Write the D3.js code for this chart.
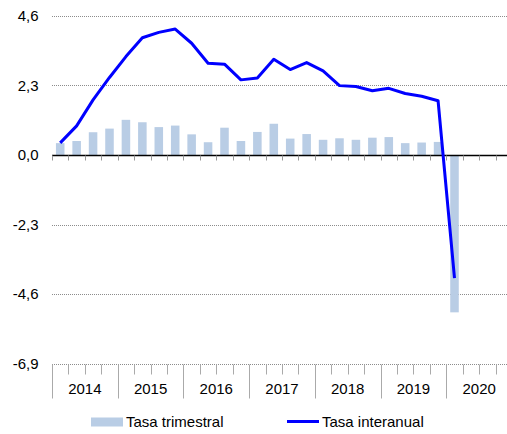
<!DOCTYPE html>
<html>
<head>
<meta charset="utf-8">
<script src="https://cdn.jsdelivr.net/npm/d3@7"></script>
<style>
  body { margin: 0; background: #fff; }
  svg { display: block; font-family: "Liberation Sans", Arial, sans-serif; }
</style>
</head>
<body>
<div id="chart"></div>
<script>
// Quarterly data, 2014Q1 .. 2020Q1
const years = ["2014", "2015", "2016", "2017", "2018", "2019", "2020"]
const quarters = years.flatMap(y => ["T1", "T2", "T3", "T4"].map(q => y + q))
const tasaTrimestral = [
  0.39, 0.46, 0.75, 0.87,
  1.16, 1.08, 0.92, 0.97,
  0.68, 0.42, 0.90, 0.46,
  0.76, 1.03, 0.54, 0.69,
  0.50, 0.55, 0.50, 0.57,
  0.59, 0.39, 0.41, 0.43,
  -5.2
]
const tasaInteranual = [
  0.40, 0.96, 1.82, 2.56,
  3.25, 3.87, 4.05, 4.16,
  3.69, 3.03, 3.00, 2.48,
  2.54, 3.16, 2.82, 3.05,
  2.78, 2.29, 2.26, 2.12,
  2.20, 2.03, 1.94, 1.79,
  -4.07
]
const yTicks = [-6.9, -4.6, -2.3, 0, 2.3, 4.6]

const width = 507
const height = 434
const left = 52
const right = 512
const yTop = 15.7
const yBottom = 363.8

const svg = d3.select("#chart")
  .append("svg")
  .attr("width", width)
  .attr("height", height)

// Scales
const x = d3.scaleBand()
  .domain(quarters)
  .range([left, right])
  .paddingInner(0.48)
  .paddingOuter(0.24)
const step = x.step()
const cx = q => x(q) + x.bandwidth() / 2

const xYear = d3.scaleBand().domain(years).range([left, right])

const y = d3.scaleLinear().domain([-6.9, 4.6]).range([yBottom, yTop])

// comma decimal, plain hyphen for minus
const fmt = v => d3.format(".1f")(v).replace(".", ",").replace("\u2212", "-")

// Gridlines (dotted), not at zero
svg.append("g")
  .selectAll("line")
  .data(yTicks.filter(d => d !== 0))
  .join("line")
  .attr("x1", left).attr("x2", right)
  .attr("y1", d => Math.round(y(d)) + 0.5)
  .attr("y2", d => Math.round(y(d)) + 0.5)
  .attr("stroke", "#8c8c8c")
  .attr("stroke-width", 1)
  .attr("stroke-dasharray", "1,1")

// Y labels
svg.append("g")
  .selectAll("text")
  .data(yTicks)
  .join("text")
  .attr("x", 38.5)
  .attr("y", d => y(d))
  .attr("dy", "0.35em")
  .attr("text-anchor", "end")
  .attr("font-size", "15px")
  .attr("fill", "#000")
  .text(fmt)

// Bars
svg.append("g")
  .selectAll("rect")
  .data(tasaTrimestral)
  .join("rect")
  .attr("x", (d, i) => x(quarters[i]))
  .attr("width", x.bandwidth())
  .attr("y", d => y(Math.max(0, d)))
  .attr("height", d => Math.abs(y(d) - y(0)))
  .attr("fill", "#b9cde5")

// Zero line + quarter ticks below
const y0 = Math.round(y(0)) + 0.5
svg.append("line")
  .attr("x1", left).attr("x2", right)
  .attr("y1", y0).attr("y2", y0)
  .attr("stroke", "#000").attr("stroke-width", 1.3)

const boundaries = d3.range(quarters.length + 1).map(i => left + i * step)
svg.append("g")
  .selectAll("line")
  .data(boundaries)
  .join("line")
  .attr("x1", d => Math.round(d) + 0.5).attr("x2", d => Math.round(d) + 0.5)
  .attr("y1", y0).attr("y2", y0 + 5)
  .attr("stroke", "#999")

// Bottom axis: minor quarter ticks and year separators
const yb = Math.round(y(-6.9)) + 0.5
svg.append("g")
  .selectAll("line")
  .data(boundaries.filter((d, i) => i % 4 !== 0))
  .join("line")
  .attr("x1", d => Math.round(d) + 0.5).attr("x2", d => Math.round(d) + 0.5)
  .attr("y1", yb).attr("y2", yb + 10)
  .attr("stroke", "#aaa")

svg.append("g")
  .selectAll("line")
  .data(boundaries.filter((d, i) => i % 4 === 0))
  .join("line")
  .attr("x1", d => Math.round(d) + 0.5).attr("x2", d => Math.round(d) + 0.5)
  .attr("y1", yb).attr("y2", yb + 34)
  .attr("stroke", "#aaa")

svg.append("g")
  .selectAll("text")
  .data(years)
  .join("text")
  .attr("x", d => xYear(d) + xYear.bandwidth() / 2)
  .attr("y", 394)
  .attr("text-anchor", "middle")
  .attr("font-size", "15px")
  .attr("fill", "#000")
  .text(d => d)

// Line
const line = d3.line()
  .x((d, i) => cx(quarters[i]))
  .y(d => y(d))

svg.append("path")
  .datum(tasaInteranual)
  .attr("d", line)
  .attr("fill", "none")
  .attr("stroke", "#0000ff")
  .attr("stroke-width", 3)
  .attr("stroke-linejoin", "round")

// Legend
const legend = svg.append("g")
legend.append("rect")
  .attr("x", 91).attr("y", 417.5)
  .attr("width", 32).attr("height", 9)
  .attr("fill", "#b9cde5")
legend.append("text")
  .attr("x", 126).attr("y", 427)
  .attr("font-size", "15px")
  .text("Tasa trimestral")
legend.append("line")
  .attr("x1", 287).attr("x2", 319)
  .attr("y1", 421.5).attr("y2", 421.5)
  .attr("stroke", "#0000ff").attr("stroke-width", 3)
legend.append("text")
  .attr("x", 322).attr("y", 427)
  .attr("font-size", "15px")
  .text("Tasa interanual")
</script>
</body>
</html>
